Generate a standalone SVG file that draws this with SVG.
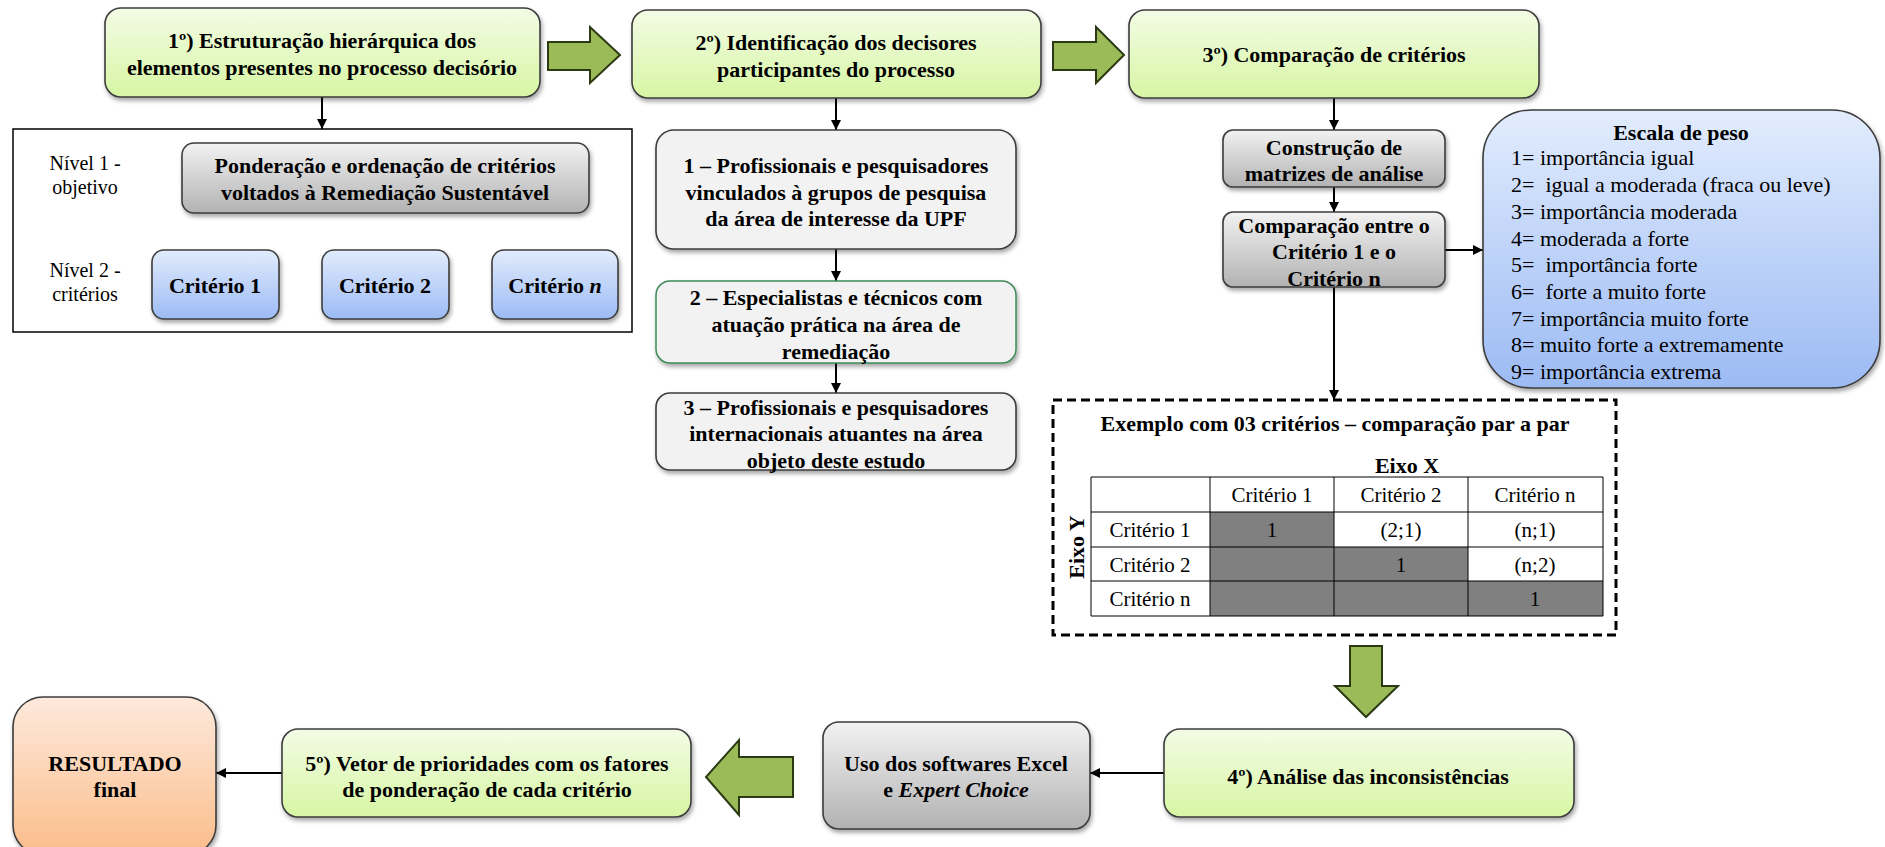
<svg xmlns="http://www.w3.org/2000/svg" width="1885" height="847" viewBox="0 0 1885 847">
<style>
.t{font-family:"Liberation Serif","Times New Roman",serif;font-size:22px;fill:#000}
.b{font-weight:bold}
.m{text-anchor:middle}
.bx{stroke:#3c3c3c;stroke-width:1.6}
.ln{stroke:#000;stroke-width:2;fill:none}
.big{fill:#9bbb59;stroke:#2b3a12;stroke-width:2}
.tb{stroke:#000;stroke-width:1;fill:none}
</style>
<defs>
<linearGradient id="gGreen" x1="0" y1="0" x2="0" y2="1"><stop offset="0" stop-color="#f3fce6"/><stop offset="1" stop-color="#d7f6a3"/></linearGradient>
<linearGradient id="gGray" x1="0" y1="0" x2="0" y2="1"><stop offset="0" stop-color="#f2f2f2"/><stop offset="1" stop-color="#b2b2b2"/></linearGradient>
<linearGradient id="gBlue" x1="0" y1="0" x2="0" y2="1"><stop offset="0" stop-color="#e2ecfd"/><stop offset="1" stop-color="#9cbbf4"/></linearGradient>
<linearGradient id="gOrange" x1="0" y1="0" x2="0" y2="1"><stop offset="0" stop-color="#fde9dc"/><stop offset="1" stop-color="#fbbd8a"/></linearGradient>
<filter id="sh" x="-10%" y="-10%" width="130%" height="140%"><feDropShadow dx="1.5" dy="3" stdDeviation="2" flood-color="#000" flood-opacity="0.35"/></filter>
<marker id="ah" viewBox="0 0 10 10" refX="10" refY="5" markerWidth="10" markerHeight="10" markerUnits="userSpaceOnUse" orient="auto"><path d="M0,0 L10,5 L0,10 z" fill="#000"/></marker>
</defs>
<rect width="1885" height="847" fill="#fff"/>

<g id="connectors">
<line class="ln" x1="322" y1="97" x2="322" y2="129" marker-end="url(#ah)"/>
<line class="ln" x1="836" y1="98" x2="836" y2="130" marker-end="url(#ah)"/>
<line class="ln" x1="836" y1="249" x2="836" y2="281" marker-end="url(#ah)"/>
<line class="ln" x1="836" y1="363" x2="836" y2="393" marker-end="url(#ah)"/>
<line class="ln" x1="1334" y1="98" x2="1334" y2="130" marker-end="url(#ah)"/>
<line class="ln" x1="1334" y1="187" x2="1334" y2="212" marker-end="url(#ah)"/>
<line class="ln" x1="1334" y1="287" x2="1334" y2="400" marker-end="url(#ah)"/>
<line class="ln" x1="1445" y1="250" x2="1483" y2="250" marker-end="url(#ah)"/>
<line class="ln" x1="1164" y1="773" x2="1090" y2="773" marker-end="url(#ah)"/>
<line class="ln" x1="282" y1="773" x2="216" y2="773" marker-end="url(#ah)"/>
<path d="M385,213 V230 M215,250 V230 H555 V250" stroke="#000" stroke-width="1" fill="none"/>
<path class="big" d="M548,42 H590 V27 L620,55 L590,83 V70 H548 Z"/>
<path class="big" d="M1053,42 H1096 V27 L1124,55 L1096,83 V70 H1053 Z"/>
<path class="big" d="M1350,646 H1382 V686 H1398 L1366,717 L1335,686 H1350 Z"/>
<path class="big" d="M793,757 H739 V740 L706,777 L739,815 V797 H793 Z"/>
</g>

<g id="step1">
<rect class="bx" x="105" y="8" width="435" height="89" rx="16" fill="url(#gGreen)" filter="url(#sh)"/>
<text class="t b m" x="322" y="48">1º) Estruturação hierárquica dos</text>
<text class="t b m" x="322" y="75">elementos presentes no processo decisório</text>
</g>

<g id="hierarchy">
<rect x="13" y="129" width="619" height="203" fill="#fff" stroke="#000" stroke-width="1.5"/>
<text class="t m" x="85" y="170" style="font-size:20px">Nível 1 -</text>
<text class="t m" x="85" y="194" style="font-size:20px">objetivo</text>
<text class="t m" x="85" y="277" style="font-size:20px">Nível 2 -</text>
<text class="t m" x="85" y="301" style="font-size:20px">critérios</text>
</g>

<g id="objetivo">
<rect class="bx" x="182" y="143" width="407" height="70" rx="12" fill="url(#gGray)" filter="url(#sh)"/>
<text class="t b m" x="385" y="173">Ponderação e ordenação de critérios</text>
<text class="t b m" x="385" y="200">voltados à Remediação Sustentável</text>
</g>

<g id="criterio1">
<rect class="bx" x="152" y="250" width="127" height="69" rx="12" fill="url(#gBlue)" filter="url(#sh)"/>
<text class="t b m" x="215" y="293">Critério 1</text>
</g>
<g id="criterio2">
<rect class="bx" x="322" y="250" width="127" height="69" rx="12" fill="url(#gBlue)" filter="url(#sh)"/>
<text class="t b m" x="385" y="293">Critério 2</text>
</g>
<g id="criterioN">
<rect class="bx" x="492" y="250" width="126" height="69" rx="12" fill="url(#gBlue)" filter="url(#sh)"/>
<text class="t b m" x="555" y="293">Critério <tspan font-style="italic">n</tspan></text>
</g>

<g id="step2">
<rect class="bx" x="632" y="10" width="409" height="88" rx="16" fill="url(#gGreen)" filter="url(#sh)"/>
<text class="t b m" x="836" y="50">2º) Identificação dos decisores</text>
<text class="t b m" x="836" y="77">participantes do processo</text>
</g>

<g id="decisor1">
<rect class="bx" x="656" y="130" width="360" height="119" rx="18" fill="#f2f2f2" filter="url(#sh)"/>
<text class="t b m" x="836" y="173">1 – Profissionais e pesquisadores</text>
<text class="t b m" x="836" y="200">vinculados à grupos de pesquisa</text>
<text class="t b m" x="836" y="226">da área de interesse da UPF</text>
</g>

<g id="decisor2">
<rect x="656" y="281" width="360" height="82" rx="14" fill="#f2f2f2" stroke="#3f8a5a" stroke-width="1.5" filter="url(#sh)"/>
<text class="t b m" x="836" y="305">2 – Especialistas e técnicos com</text>
<text class="t b m" x="836" y="332">atuação prática na área de</text>
<text class="t b m" x="836" y="359">remediação</text>
</g>

<g id="decisor3">
<rect class="bx" x="656" y="393" width="360" height="77" rx="14" fill="#f2f2f2" filter="url(#sh)"/>
<text class="t b m" x="836" y="415">3 – Profissionais e pesquisadores</text>
<text class="t b m" x="836" y="441">internacionais atuantes na área</text>
<text class="t b m" x="836" y="468">objeto deste estudo</text>
</g>

<g id="step3">
<rect class="bx" x="1129" y="10" width="410" height="88" rx="16" fill="url(#gGreen)" filter="url(#sh)"/>
<text class="t b m" x="1334" y="62">3º) Comparação de critérios</text>
</g>

<g id="construcao">
<rect class="bx" x="1223" y="130" width="222" height="57" rx="10" fill="url(#gGray)" filter="url(#sh)"/>
<text class="t b m" x="1334" y="155">Construção de</text>
<text class="t b m" x="1334" y="181">matrizes de análise</text>
</g>

<g id="comparacao">
<rect class="bx" x="1223" y="212" width="222" height="75" rx="10" fill="url(#gGray)" filter="url(#sh)"/>
<text class="t b m" x="1334" y="233">Comparação entre o</text>
<text class="t b m" x="1334" y="259">Critério 1 e o</text>
<text class="t b m" x="1334" y="286">Critério n</text>
</g>

<g id="escala">
<rect class="bx" x="1483" y="110" width="397" height="278" rx="48" fill="url(#gBlue)" filter="url(#sh)"/>
<text class="t b m" x="1681" y="140">Escala de peso</text>
<text class="t" x="1511" y="165">1= importância igual</text>
<text class="t" x="1511" y="192" xml:space="preserve">2=  igual a moderada (fraca ou leve)</text>
<text class="t" x="1511" y="219">3= importância moderada</text>
<text class="t" x="1511" y="246">4= moderada a forte</text>
<text class="t" x="1511" y="272" xml:space="preserve">5=  importância forte</text>
<text class="t" x="1511" y="299" xml:space="preserve">6=  forte a muito forte</text>
<text class="t" x="1511" y="326">7= importância muito forte</text>
<text class="t" x="1511" y="352">8= muito forte a extremamente</text>
<text class="t" x="1511" y="379">9= importância extrema</text>
</g>

<g id="exemplo">
<rect x="1053" y="400" width="563" height="235" fill="none" stroke="#000" stroke-width="3" stroke-dasharray="9,5"/>
<text class="t b m" x="1335" y="431">Exemplo com 03 critérios – comparação par a par</text>
<text class="t b m" x="1407" y="473">Eixo X</text>
<text class="t b m" transform="translate(1084,547) rotate(-90)">Eixo Y</text>
<rect x="1210" y="512" width="124" height="35" fill="#808080"/>
<rect x="1210" y="547" width="258" height="34" fill="#808080"/>
<rect x="1210" y="581" width="393" height="35" fill="#808080"/>
<path class="tb" d="M1091,477 H1603 V616 H1091 Z M1091,512 H1603 M1091,547 H1603 M1091,581 H1603 M1210,477 V616 M1334,477 V616 M1468,477 V616"/>
<text class="t m" x="1272" y="502" style="font-size:21px">Critério 1</text>
<text class="t m" x="1401" y="502" style="font-size:21px">Critério 2</text>
<text class="t m" x="1535" y="502" style="font-size:21px">Critério n</text>
<text class="t m" x="1150" y="537" style="font-size:21px">Critério 1</text>
<text class="t m" x="1150" y="572" style="font-size:21px">Critério 2</text>
<text class="t m" x="1150" y="606" style="font-size:21px">Critério n</text>
<text class="t m" x="1272" y="537" style="font-size:21px">1</text>
<text class="t m" x="1401" y="537" style="font-size:21px">(2;1)</text>
<text class="t m" x="1535" y="537" style="font-size:21px">(n;1)</text>
<text class="t m" x="1401" y="572" style="font-size:21px">1</text>
<text class="t m" x="1535" y="572" style="font-size:21px">(n;2)</text>
<text class="t m" x="1535" y="606" style="font-size:21px">1</text>
</g>

<g id="step4">
<rect class="bx" x="1164" y="729" width="410" height="88" rx="16" fill="url(#gGreen)" filter="url(#sh)"/>
<text class="t b m" x="1368" y="784">4º) Análise das inconsistências</text>
</g>

<g id="software">
<rect class="bx" x="823" y="722" width="267" height="107" rx="16" fill="url(#gGray)" filter="url(#sh)"/>
<text class="t b m" x="956" y="771">Uso dos softwares Excel</text>
<text class="t b m" x="956" y="797">e <tspan font-style="italic">Expert Choice</tspan></text>
</g>

<g id="step5">
<rect class="bx" x="282" y="729" width="409" height="88" rx="16" fill="url(#gGreen)" filter="url(#sh)"/>
<text class="t b m" x="487" y="771">5º) Vetor de prioridades com os fatores</text>
<text class="t b m" x="487" y="797">de ponderação de cada critério</text>
</g>

<g id="resultado">
<rect class="bx" x="13" y="697" width="203" height="158" rx="30" fill="url(#gOrange)" filter="url(#sh)"/>
<text class="t b m" x="115" y="771">RESULTADO</text>
<text class="t b m" x="115" y="797">final</text>
</g>
</svg>
